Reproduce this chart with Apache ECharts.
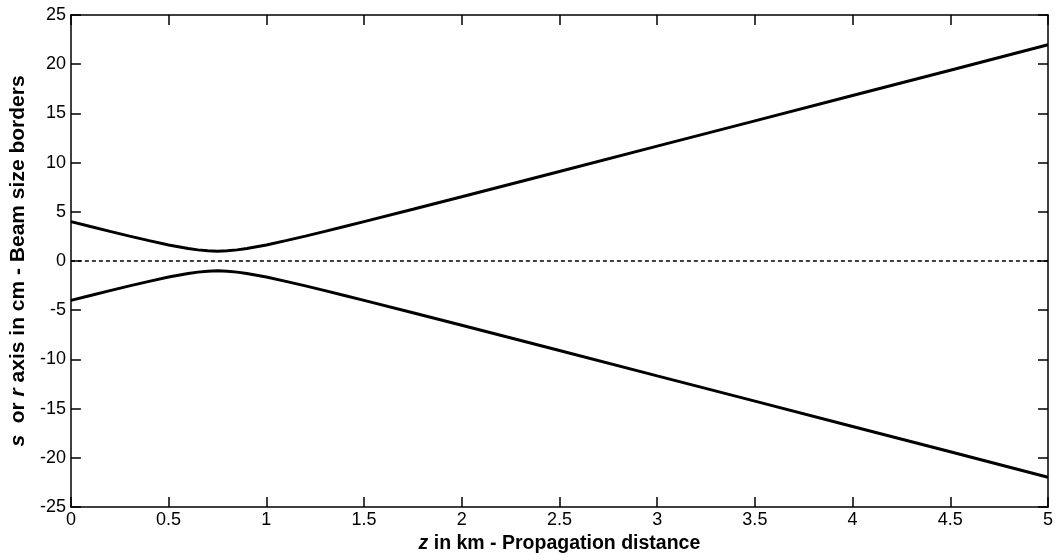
<!DOCTYPE html>
<html>
<head>
<meta charset="utf-8">
<script src="https://cdn.jsdelivr.net/npm/echarts@6/dist/echarts.min.js"></script>
<style>
html,body{margin:0;padding:0;background:#fff;}
#chart{width:1059px;height:560px;}
</style>
</head>
<body>
<div id="chart"></div>
<script>
// Propagation distance z (km)
var zValues = [0, 0.1, 0.2, 0.3, 0.4, 0.5, 0.6, 0.65, 0.7, 0.75, 0.8, 0.85, 0.9, 1.0, 1.1, 1.2, 1.3, 1.4, 1.5, 1.75, 2.0, 2.5, 3.0, 3.5, 4.0, 4.5, 5.0];
// Upper beam border (cm)
var upperValues = [4.0, 3.5, 3.01, 2.53, 2.07, 1.63, 1.27, 1.13, 1.03, 1.0, 1.03, 1.13, 1.27, 1.63, 2.07, 2.53, 3.01, 3.5, 4.0, 5.26, 6.53, 9.09, 11.67, 14.24, 16.82, 19.39, 21.97];
// Lower beam border (cm)
var lowerValues = [-4.0, -3.5, -3.01, -2.53, -2.07, -1.63, -1.27, -1.13, -1.03, -1.0, -1.03, -1.13, -1.27, -1.63, -2.07, -2.53, -3.01, -3.5, -4.0, -5.26, -6.53, -9.09, -11.67, -14.24, -16.82, -19.39, -21.97];
// Axis line (zero)
var axisZ = [0, 5];
var axisV = [0, 0];

function pairs(xs, ys){ return xs.map(function(x,i){ return [x, ys[i]]; }); }

var font = '"Liberation Sans", Arial, sans-serif';
function tickStyle(){ return {show:true, inside:true, length:10, lineStyle:{color:'#000', width:1.5}}; }
function axLine(){ return {show:true, onZero:false, lineStyle:{color:'#000', width:1.5}}; }

var chart = echarts.init(document.getElementById('chart'), null, {renderer:'canvas'});
chart.setOption({
  animation:false,
  backgroundColor:'#fff',
  grid:{left:68, right:11, top:15, bottom:53},
  xAxis:[{
    type:'value', min:0, max:5, interval:0.5,
    axisLine:axLine(), axisTick:tickStyle(), splitLine:{show:false},
    axisLabel:{color:'#000', fontSize:18, fontFamily:font, margin:4},
    name:'{bi|z} in km - Propagation distance',
    nameLocation:'middle', nameGap:26,
    nameTextStyle:{color:'#000', fontSize:19.5, fontWeight:'bold', fontFamily:font,
      rich:{bi:{fontStyle:'italic', fontWeight:'bold', fontSize:19.5, fontFamily:font, color:'#000'}}}
  },{
    type:'value', min:0, max:5, interval:0.5, position:'top',
    axisLine:axLine(), axisTick:tickStyle(), splitLine:{show:false}, axisLabel:{show:false}
  }],
  yAxis:[{
    type:'value', min:-25, max:25, interval:5,
    axisLine:axLine(), axisTick:tickStyle(), splitLine:{show:false},
    axisLabel:{color:'#000', fontSize:18, fontFamily:font, margin:5},
    name:'{bi|s}  or {bi|r} axis in cm - Beam size borders',
    nameLocation:'middle', nameGap:39, nameRotate:90,
    nameTextStyle:{color:'#000', fontSize:21, fontWeight:'bold', fontFamily:font,
      rich:{bi:{fontStyle:'italic', fontWeight:'bold', fontSize:21, fontFamily:font, color:'#000'}}}
  },{
    type:'value', min:-25, max:25, interval:5, position:'right',
    axisLine:axLine(), axisTick:tickStyle(), splitLine:{show:false}, axisLabel:{show:false}
  }],
  series:[{
    type:'line', data:pairs(zValues, upperValues), showSymbol:false,
    lineStyle:{color:'#000', width:3}
  },{
    type:'line', data:pairs(zValues, lowerValues), showSymbol:false,
    lineStyle:{color:'#000', width:3}
  },{
    type:'line', data:pairs(axisZ, axisV), showSymbol:false,
    lineStyle:{color:'#000', width:1.6, type:[4,3]}
  }]
});
</script>
</body>
</html>
